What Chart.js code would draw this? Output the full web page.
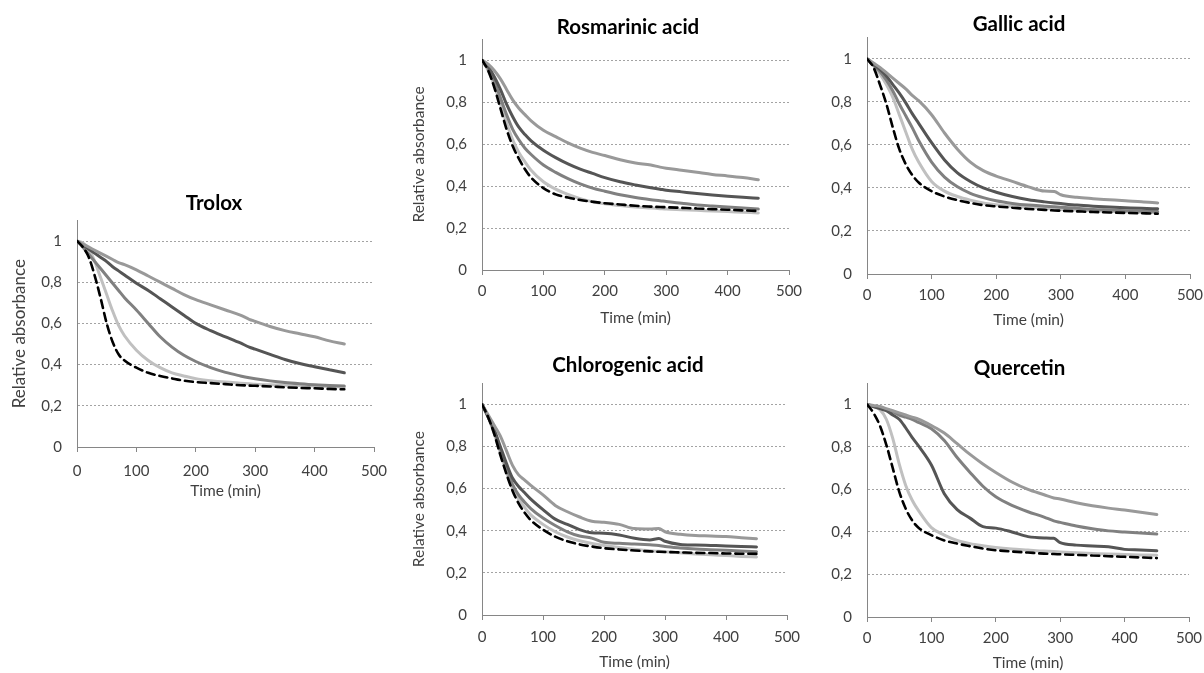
<!DOCTYPE html>
<html lang="en">
<head>
<meta charset="UTF-8">
<title>Relative absorbance vs time</title>
<script src="https://cdn.jsdelivr.net/npm/chart.js"></script>
<style>
  body { margin: 0; background: #fff; }
  #wrap { position: relative; width: 1204px; height: 673px; overflow: hidden; background: #fff; }
  #wrap canvas { position: absolute; }
</style>
</head>
<body>
<div id="wrap"></div>
<script>
// sampling times (min), shared by every curve
const times = [0, 10, 20, 30, 40, 50, 60, 70, 80, 100, 120, 140, 160, 180, 200, 225, 250, 275, 290, 300, 325, 350, 375, 400, 425, 450];
const xTicks = [0, 100, 200, 300, 400, 500];
const yTicks = [0, 0.2, 0.4, 0.6, 0.8, 1];
const yTickLabels = ['0', '0,2', '0,4', '0,6', '0,8', '1'];

// Trolox
const troloxDash  = [1, 0.97, 0.92, 0.83, 0.72, 0.6, 0.51, 0.45, 0.42, 0.385, 0.36, 0.345, 0.333, 0.322, 0.315, 0.31, 0.305, 0.3, 0.298, 0.297, 0.294, 0.29, 0.287, 0.285, 0.282, 0.28];
const troloxLight = [1, 0.99, 0.96, 0.9, 0.82, 0.74, 0.66, 0.59, 0.54, 0.47, 0.42, 0.385, 0.36, 0.345, 0.332, 0.322, 0.315, 0.31, 0.307, 0.305, 0.302, 0.3, 0.298, 0.296, 0.294, 0.292];
const troloxMid   = [1, 0.97, 0.935, 0.9, 0.865, 0.83, 0.795, 0.76, 0.725, 0.665, 0.6, 0.535, 0.485, 0.445, 0.415, 0.385, 0.362, 0.345, 0.336, 0.331, 0.321, 0.313, 0.307, 0.302, 0.299, 0.296];
const troloxDark  = [1, 0.98, 0.96, 0.94, 0.92, 0.9, 0.875, 0.855, 0.835, 0.795, 0.76, 0.72, 0.68, 0.64, 0.6, 0.565, 0.535, 0.505, 0.485, 0.475, 0.45, 0.425, 0.405, 0.39, 0.375, 0.36];
const troloxGrey  = [1, 0.985, 0.97, 0.955, 0.94, 0.925, 0.91, 0.895, 0.885, 0.86, 0.83, 0.8, 0.77, 0.74, 0.715, 0.69, 0.665, 0.64, 0.62, 0.61, 0.585, 0.565, 0.55, 0.535, 0.515, 0.5];

// Rosmarinic acid
const rosmDash  = [1, 0.95, 0.87, 0.77, 0.67, 0.59, 0.53, 0.48, 0.44, 0.39, 0.36, 0.345, 0.333, 0.325, 0.318, 0.312, 0.306, 0.302, 0.3, 0.299, 0.296, 0.293, 0.29, 0.287, 0.284, 0.281];
const rosmLight = [1, 0.95, 0.88, 0.79, 0.7, 0.62, 0.56, 0.515, 0.475, 0.42, 0.385, 0.36, 0.34, 0.325, 0.315, 0.307, 0.3, 0.295, 0.292, 0.29, 0.287, 0.284, 0.281, 0.278, 0.275, 0.272];
const rosmMid   = [1, 0.96, 0.9, 0.82, 0.74, 0.67, 0.62, 0.58, 0.55, 0.5, 0.465, 0.435, 0.41, 0.39, 0.375, 0.358, 0.345, 0.335, 0.33, 0.326, 0.318, 0.31, 0.305, 0.3, 0.295, 0.29];
const rosmDark  = [1, 0.97, 0.92, 0.86, 0.79, 0.73, 0.68, 0.645, 0.615, 0.57, 0.535, 0.505, 0.48, 0.46, 0.44, 0.42, 0.405, 0.392, 0.385, 0.38, 0.372, 0.364, 0.357, 0.351, 0.346, 0.342];
const rosmGrey  = [1, 0.98, 0.95, 0.91, 0.86, 0.81, 0.77, 0.74, 0.71, 0.665, 0.635, 0.605, 0.58, 0.56, 0.545, 0.525, 0.51, 0.5, 0.49, 0.485, 0.475, 0.465, 0.455, 0.448, 0.44, 0.43];

// Gallic acid
const gallicDash  = [1, 0.96, 0.88, 0.79, 0.68, 0.58, 0.51, 0.46, 0.425, 0.385, 0.36, 0.343, 0.33, 0.32, 0.314, 0.308, 0.302, 0.298, 0.295, 0.294, 0.291, 0.288, 0.286, 0.284, 0.282, 0.28];
const gallicLight = [1, 0.97, 0.93, 0.88, 0.82, 0.74, 0.66, 0.58, 0.52, 0.43, 0.385, 0.36, 0.343, 0.33, 0.322, 0.315, 0.31, 0.305, 0.302, 0.3, 0.297, 0.294, 0.291, 0.289, 0.287, 0.285];
const gallicMid   = [1, 0.97, 0.94, 0.9, 0.85, 0.79, 0.735, 0.68, 0.62, 0.52, 0.45, 0.405, 0.375, 0.355, 0.34, 0.328, 0.32, 0.315, 0.312, 0.31, 0.305, 0.3, 0.297, 0.294, 0.292, 0.29];
const gallicDark  = [1, 0.975, 0.95, 0.92, 0.88, 0.84, 0.795, 0.745, 0.7, 0.61, 0.53, 0.47, 0.43, 0.4, 0.38, 0.36, 0.345, 0.335, 0.33, 0.327, 0.32, 0.315, 0.311, 0.308, 0.305, 0.303];
const gallicGrey  = [1, 0.98, 0.96, 0.935, 0.91, 0.885, 0.86, 0.83, 0.805, 0.74, 0.655, 0.58, 0.52, 0.48, 0.455, 0.43, 0.405, 0.385, 0.383, 0.368, 0.356, 0.35, 0.345, 0.34, 0.336, 0.33];

// Chlorogenic acid
const chloroDash  = [1, 0.94, 0.86, 0.76, 0.67, 0.59, 0.53, 0.485, 0.45, 0.405, 0.372, 0.35, 0.335, 0.325, 0.317, 0.311, 0.306, 0.302, 0.3, 0.299, 0.297, 0.295, 0.294, 0.292, 0.291, 0.29];
const chloroLight = [1, 0.94, 0.86, 0.77, 0.68, 0.6, 0.55, 0.51, 0.475, 0.43, 0.395, 0.37, 0.352, 0.34, 0.33, 0.32, 0.312, 0.305, 0.302, 0.3, 0.295, 0.29, 0.286, 0.282, 0.278, 0.275];
const chloroMid   = [1, 0.94, 0.87, 0.79, 0.7, 0.62, 0.57, 0.535, 0.505, 0.46, 0.425, 0.395, 0.375, 0.365, 0.345, 0.34, 0.337, 0.333, 0.33, 0.325, 0.318, 0.313, 0.31, 0.307, 0.304, 0.3];
const chloroDark  = [1, 0.94, 0.88, 0.8, 0.72, 0.65, 0.61, 0.58, 0.55, 0.5, 0.455, 0.43, 0.405, 0.39, 0.388, 0.38, 0.364, 0.356, 0.363, 0.35, 0.335, 0.332, 0.33, 0.328, 0.325, 0.323];
const chloroGrey  = [1, 0.95, 0.9, 0.85, 0.78, 0.71, 0.665, 0.64, 0.615, 0.57, 0.52, 0.49, 0.465, 0.445, 0.44, 0.43, 0.41, 0.408, 0.41, 0.395, 0.383, 0.377, 0.375, 0.372, 0.367, 0.362];

// Quercetin
const quercDash  = [1, 0.96, 0.9, 0.81, 0.7, 0.59, 0.51, 0.455, 0.42, 0.385, 0.36, 0.345, 0.333, 0.322, 0.314, 0.308, 0.303, 0.298, 0.296, 0.295, 0.292, 0.289, 0.286, 0.283, 0.28, 0.277];
const quercLight = [1, 0.99, 0.975, 0.93, 0.84, 0.72, 0.62, 0.55, 0.5, 0.42, 0.385, 0.36, 0.345, 0.335, 0.327, 0.32, 0.315, 0.31, 0.308, 0.306, 0.302, 0.299, 0.296, 0.294, 0.292, 0.29];
const quercMid   = [1, 0.99, 0.985, 0.975, 0.965, 0.95, 0.94, 0.93, 0.915, 0.885, 0.83, 0.75, 0.68, 0.615, 0.565, 0.525, 0.495, 0.47, 0.452, 0.445, 0.428, 0.415, 0.405, 0.4, 0.395, 0.39];
const quercDark  = [1, 0.99, 0.98, 0.97, 0.95, 0.93, 0.89, 0.845, 0.805, 0.715, 0.58, 0.505, 0.465, 0.425, 0.418, 0.4, 0.378, 0.372, 0.37, 0.35, 0.338, 0.334, 0.33, 0.318, 0.315, 0.311];
const quercGrey  = [1, 0.995, 0.99, 0.98, 0.97, 0.96, 0.95, 0.94, 0.93, 0.9, 0.865, 0.815, 0.765, 0.72, 0.68, 0.635, 0.6, 0.575, 0.56, 0.555, 0.537, 0.523, 0.512, 0.503, 0.493, 0.482];

const FONT = 'Lato';

// where each panel sits on the page (plot box in px, title centres)
const panels = [
  { title: 'Trolox', data: [troloxDash, troloxLight, troloxMid, troloxDark, troloxGrey],
    x0: 77, x1: 374, yBot: 447, yTop: 220.4, titleX: 214, titleY: 203, yTitleX: 20, yTitleSize: 17, xPad: 10, xTitleY: 491 },
  { title: 'Rosmarinic acid', data: [rosmDash, rosmLight, rosmMid, rosmDark, rosmGrey],
    x0: 482, x1: 789, yBot: 270, yTop: 39, titleX: 628, titleY: 27, yTitleX: 420, yTitleSize: 15.5, xPad: 7, xTitleY: 318 },
  { title: 'Gallic acid', data: [gallicDash, gallicLight, gallicMid, gallicDark, gallicGrey],
    x0: 867, x1: 1190, yBot: 274, yTop: 37.2, titleX: 1019, titleY: 24, yTitleX: null, yTitleSize: 15.5, xPad: 7, xTitleY: 320 },
  { title: 'Chlorogenic acid', data: [chloroDash, chloroLight, chloroMid, chloroDark, chloroGrey],
    x0: 482, x1: 787, yBot: 615, yTop: 383.2, titleX: 628, titleY: 365, yTitleX: 420, yTitleSize: 15.5, xPad: 8, xTitleY: 662 },
  { title: 'Quercetin', data: [quercDash, quercLight, quercMid, quercDark, quercGrey],
    x0: 867, x1: 1189, yBot: 617, yTop: 383.1, titleX: 1019.5, titleY: 368, yTitleX: null, yTitleSize: 15.5, xPad: 7, xTitleY: 663 }
];

const lineStyles = [
  { color: '#000000', width: 2.6, dash: [8, 5] },
  { color: '#c0c0c0', width: 3, dash: [] },
  { color: '#808080', width: 3, dash: [] },
  { color: '#555555', width: 3, dash: [] },
  { color: '#999999', width: 3, dash: [] }
];

function makePanel(p) {
  const titleSize = 20.5, tlh = titleSize * 1.2;
  const axisSize = 15.5, alh = axisSize * 1.2;
  const ylh = p.yTitleSize * 1.2;
  const tickSize = 15;

  // y axis box wide enough for labels and its title
  const yW = p.yTitleX !== null ? Math.ceil(p.x0 - (p.yTitleX - ylh / 2 - 2)) : 50;
  // invisible box on the right, so the chart title lands where the reference has it
  const rbw = Math.max(0, yW - 2 * ((p.x0 + p.x1) / 2 - p.titleX));
  const padR = 4;
  const canvasLeft = p.x0 - yW;
  const canvasTop = Math.floor(p.titleY - tlh / 2 - 2);
  const canvasBottom = Math.ceil(p.xTitleY + alh / 2 + 3);
  const width = Math.round(p.x1 + rbw + padR - canvasLeft);
  const height = canvasBottom - canvasTop;
  const xH = canvasBottom - p.yBot;

  const canvas = document.createElement('canvas');
  canvas.width = width;
  canvas.height = height;
  canvas.style.left = canvasLeft + 'px';
  canvas.style.top = canvasTop + 'px';
  canvas.style.width = width + 'px';
  canvas.style.height = height + 'px';
  document.getElementById('wrap').appendChild(canvas);

  const datasets = p.data.map((vals, i) => ({
    data: times.map((t, k) => ({ x: t, y: vals[k] })),
    borderColor: lineStyles[i].color,
    borderWidth: lineStyles[i].width,
    borderDash: lineStyles[i].dash,
    borderCapStyle: 'round',
    pointRadius: 0,
    fill: false,
    cubicInterpolationMode: 'monotone',
    order: i === 0 ? 0 : 5 - i
  }));

  new Chart(canvas, {
    type: 'line',
    data: { datasets },
    options: {
      responsive: false,
      animation: false,
      events: [],
      layout: { padding: { left: 0, right: padR, top: 0, bottom: 0 } },
      plugins: {
        legend: { display: false },
        tooltip: { enabled: false },
        title: {
          display: true,
          text: p.title,
          color: '#000',
          font: { family: FONT, size: titleSize, weight: 'bold' },
          padding: { top: p.titleY - tlh / 2 - canvasTop, bottom: p.yTop - p.titleY - tlh / 2 }
        }
      },
      scales: {
        x: {
          type: 'linear',
          min: 0,
          max: 500,
          afterFit: s => { s.height = xH; },
          afterBuildTicks: s => { s.ticks = xTicks.map(v => ({ value: v })); },
          ticks: { color: '#404040', font: { family: FONT, size: tickSize }, padding: p.xPad, maxRotation: 0 },
          grid: { display: true, drawOnChartArea: false, drawTicks: true, tickLength: 5, color: '#868686' },
          border: { display: true, color: '#868686', width: 1 },
          title: {
            display: true, text: 'Time (min)', color: '#404040',
            font: { family: FONT, size: axisSize },
            padding: { top: 0, bottom: canvasBottom - p.xTitleY - alh / 2 }
          }
        },
        y: {
          min: 0,
          max: 1.1,
          afterFit: s => { s.width = yW; },
          afterBuildTicks: s => { s.ticks = yTicks.map(v => ({ value: v })); },
          ticks: {
            color: '#404040', font: { family: FONT, size: tickSize }, padding: 15,
            callback: (v) => yTickLabels[yTicks.indexOf(v)]
          },
          grid: {
            drawTicks: false,
            color: c => (c.tick && c.tick.value === 0) ? 'rgba(0,0,0,0)' : '#a3a3a3',
            lineWidth: 1
          },
          border: {
            display: true, color: '#868686', width: 1,
            dash: c => c.type === 'tick' ? [2, 2] : []
          },
          title: {
            display: p.yTitleX !== null, text: 'Relative absorbance', color: '#404040',
            font: { family: FONT, size: p.yTitleSize },
            padding: { top: 2, bottom: 0 }
          }
        },
        spacer: {
          type: 'linear',
          position: 'right',
          display: rbw > 0,
          afterFit: s => { s.width = rbw; },
          ticks: { display: false },
          grid: { display: false },
          border: { display: false }
        }
      }
    }
  });
}

panels.forEach(makePanel);
</script>
</body>
</html>
